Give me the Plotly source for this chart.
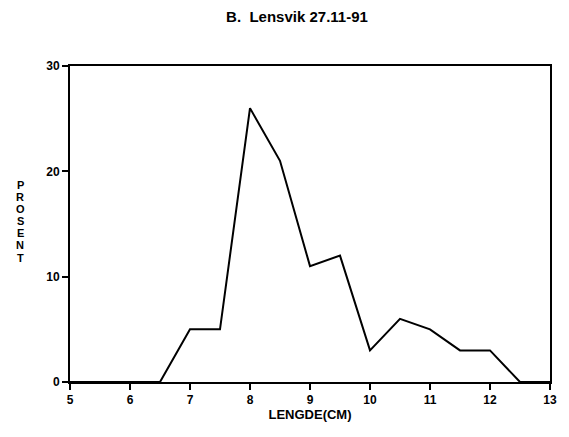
import plotly.graph_objects as go

# Lengdefordeling, Lensvik 27.11-91
lengde = [5, 5.5, 6, 6.5, 7, 7.5, 8, 8.5, 9, 9.5, 10, 10.5, 11, 11.5, 12, 12.5, 13]
prosent = [0, 0, 0, 0, 5, 5, 26, 21, 11, 12, 3, 6, 5, 3, 3, 0, 0]
x_ticks = [5, 6, 7, 8, 9, 10, 11, 12, 13]
y_ticks = [0, 10, 20, 30]
y_label = "PROSENT"

FONT = "Liberation Sans"

# the page body has an 8px margin, so the figure is a bit smaller than the window
W, H = 561, 429
M = {"l": 62, "r": 17, "t": 58, "b": 55}

fig = go.Figure(
    go.Scatter(
        x=lengde,
        y=prosent,
        mode="lines",
        line={"color": "black", "width": 2},
        showlegend=False,
    )
)

axis_style = {
    "ticks": "outside",
    "ticklen": 6,
    "tickwidth": 1.5,
    "tickcolor": "black",
    "showline": True,
    "linecolor": "black",
    "linewidth": 2,
    "mirror": True,
    "showgrid": False,
    "zeroline": False,
    "tickfont": {"size": 12},
}

fig.update_layout(
    width=W,
    height=H,
    paper_bgcolor="white",
    plot_bgcolor="white",
    margin=M,
    font={"family": FONT, "color": "black", "size": 12},
    title={
        "text": "<b>B.  Lensvik 27.11-91</b>",
        "xref": "container",
        "yref": "container",
        "x": 289 / W,
        "xanchor": "center",
        "y": 1 - 3 / H,
        "yanchor": "top",
        "pad": {"t": 0},
        "font": {"size": 15, "family": FONT},
    },
    xaxis={
        **axis_style,
        "range": [5, 13],
        "tickvals": x_ticks,
        "ticktext": [f"<b>{t}</b>" for t in x_ticks],
        "title": {"text": "<b>LENGDE(CM)</b>", "standoff": 3, "font": {"size": 13}},
    },
    yaxis={
        **axis_style,
        "range": [0, 30],
        "tickvals": y_ticks,
        "ticktext": [f"<b>{t}</b>" for t in y_ticks],
    },
)

# stacked vertical axis label, one letter per annotation for tight spacing
plot_h = H - M["t"] - M["b"]
plot_w = W - M["l"] - M["r"]
for i, ch in enumerate(y_label):
    y_px = 177 + 12.1 * i  # from the top of the figure
    fig.add_annotation(
        text=f"<b>{ch}</b>",
        xref="paper",
        yref="paper",
        x=(12 - M["l"]) / plot_w,
        y=(H - M["b"] - y_px) / plot_h,
        xanchor="center",
        yanchor="middle",
        showarrow=False,
        borderpad=0,
        font={"size": 11, "family": FONT},
    )

fig.write_html("out.html")
